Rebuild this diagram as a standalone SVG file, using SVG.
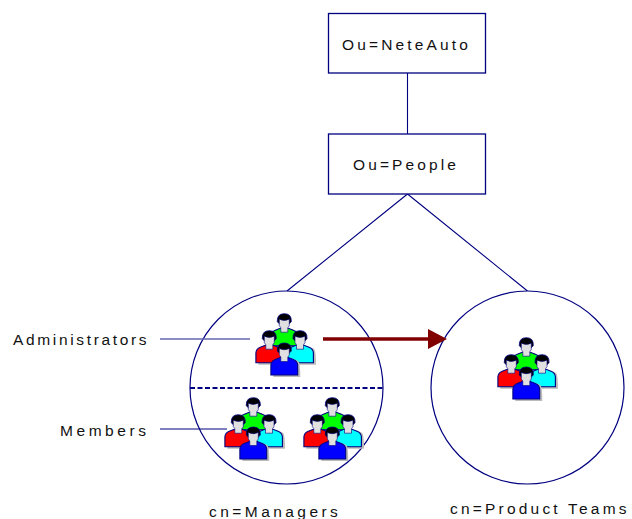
<svg xmlns="http://www.w3.org/2000/svg" width="632" height="519" viewBox="0 0 632 519">
<style>
.box{fill:#fff;stroke:#000080;stroke-width:1.300}
.c{fill:#fff;stroke:#000080;stroke-width:1.200}
.l{fill:none;stroke:#000080;stroke-width:1.100}
.t{font-family:"Liberation Sans",Arial,sans-serif;font-size:15.500px;fill:#111}
.body{stroke:#000080;stroke-width:1.100}
.face{fill:#e0e0e0;stroke:#000080;stroke-width:.6}
.hair{fill:#000;stroke:#000080;stroke-width:.8}
.shadow{fill:#bbb;stroke:none}
</style>
<defs>
<g id="person">
<path class="shadow" d="M-11 11Q-5 8-3 8H5Q7 8 14 11Q16 13 16 27H-11Z"/>
<path class="body" d="M-13.400 25V15Q-13 11-9 9.500L-4 7.500H4L9 9.500Q13 11 13.400 15V25Z"/>
<path class="hair" d="M-7 1Q-7.500-7 0-7Q7.500-7 7 1L4 4H-4Z"/>
<path class="face" d="M-5-1.500Q0 1 5-1.500V5L3.500 7V11.500H-3.500V7L-5 5Z"/>
</g>
<g id="team">
<use href="#person" x="29.300" y="6.700" fill="#00ff00"/>
<use href="#person" x="45" y="23.700" fill="#00ffff"/>
<use href="#person" x="14.300" y="23.700" fill="#ff0000"/>
<use href="#person" x="29.300" y="36" fill="#0000ff"/>
</g>
</defs>
<g id="connectors">
<path class="l" d="M407.500 73V134M407.500 194L287 291M407.500 194L527.500 291"/>
</g>
<g id="ou-neteauto">
<rect class="box" x="328.500" y="13.500" width="157" height="59.500"/>
<text class="t" x="342" y="50" letter-spacing="3.150">Ou=NeteAuto</text>
</g>
<g id="ou-people">
<rect class="box" x="328.500" y="134" width="157" height="60"/>
<text class="t" x="353" y="170" letter-spacing="3.100">Ou=People</text>
</g>
<g id="cn-managers">
<circle class="c" cx="286.500" cy="387.500" r="96.500"/>
<path d="M190 388H383" fill="none" stroke="#000080" stroke-width="2" stroke-dasharray="5 2.500"/>
<use href="#team" x="255" y="314"/>
<use href="#team" x="224" y="398"/>
<use href="#team" x="303" y="398"/>
<text class="t" x="209" y="517" letter-spacing="3.450">cn=Managers</text>
</g>
<g id="cn-product-teams">
<circle class="c" cx="527.500" cy="387.500" r="96.500"/>
<use href="#team" x="497" y="338"/>
<text class="t" x="450" y="514" letter-spacing="3.200">cn=Product Teams</text>
</g>
<g id="administrators">
<text class="t" x="13" y="345" letter-spacing="2.650">Administrators</text>
<path d="M160 339H250" fill="none" stroke="#6666b0" stroke-width="1.300"/>
</g>
<g id="members">
<text class="t" x="60" y="436" letter-spacing="3.550">Members</text>
<path d="M160 429H227" fill="none" stroke="#000080" stroke-width="1"/>
</g>
<g id="arrow">
<path d="M323 339H430" fill="none" stroke="#800000" stroke-width="3.500"/>
<path d="M428 329L447 339L428 349Z" fill="#800000"/>
</g>
</svg>
